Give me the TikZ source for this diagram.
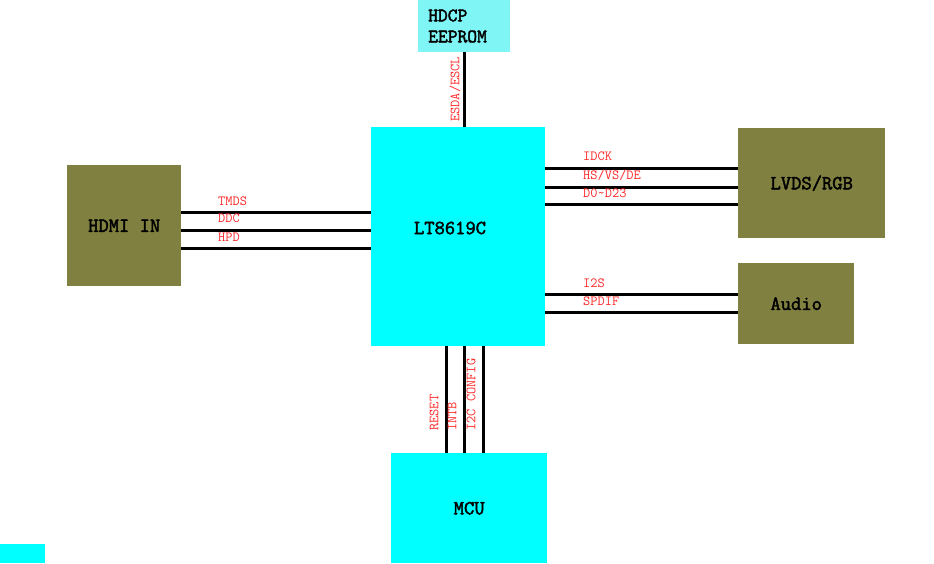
\documentclass[tikz,border=0pt]{standalone}
\usepackage{fontspec}
\newfontfamily\boldmono[FakeBold=2.2]{Latin Modern Mono}
\definecolor{cyanbox}{RGB}{0,255,255}
\definecolor{lightcyan}{RGB}{128,245,245}
\definecolor{olive}{RGB}{128,128,64}
\definecolor{lblred}{RGB}{255,40,40}
\tikzset{
  boxfont/.style={font=\boldmono\fontsize{20}{18}\selectfont},
  blk/.style={draw=none, inner sep=0pt, anchor=north west, boxfont},
  wire/.style={line width=3pt, black},
  lbl/.style={font=\ttfamily\fontsize{14}{14}\selectfont, text=lblred, inner sep=0pt, anchor=west},
  vlbl/.style={font=\ttfamily\fontsize{14}{14}\selectfont, text=lblred, inner sep=0pt, rotate=90, anchor=west},
}
\begin{document}
\begin{tikzpicture}[x=1pt,y=-1pt]
\useasboundingbox (0,0) rectangle (934,563);
% boxes
\node[blk, fill=lightcyan, minimum width=92pt, minimum height=52pt] (hdcp) at (418,0) {};
\node[font=\boldmono\fontsize{19}{21}\selectfont, inner sep=0pt, align=left, anchor=west] (hdcpT) at (428,26) {HDCP\\EEPROM};
\node[blk, fill=cyanbox, minimum width=174pt, minimum height=219pt] (lt) at (371,127) {};
\node[boxfont, inner sep=0pt] (ltT) at (450,228) {LT8619C};
\node[blk, fill=olive, minimum width=114pt, minimum height=121pt] (hdmi) at (67,165) {HDMI IN};
\node[blk, fill=olive, minimum width=147pt, minimum height=110pt] (lvds) at (738,128) {LVDS/RGB};
\node[blk, fill=olive, minimum width=116pt, minimum height=81pt] (audio) at (738,263) {Audio};
\node[blk, fill=cyanbox, minimum width=156pt, minimum height=110pt] (mcu) at (391,453) {MCU};
\node[blk, fill=cyanbox, minimum width=45pt, minimum height=19pt] (small) at (0,544) {};
% HDCP link
\draw[wire] (hdcp.south -| 464,0) -- (lt.north -| 464,0);
\node[vlbl] (esda) at (455,122) {ESDA/ESCL};
% HDMI links
\draw[wire] (hdmi.east |- 0,212) -- (lt.west |- 0,212);
\draw[wire] (hdmi.east |- 0,230) -- (lt.west |- 0,230);
\draw[wire] (hdmi.east |- 0,248) -- (lt.west |- 0,248);
\node[lbl] (tmds) at (218,201) {TMDS};
\node[lbl] (ddc) at (218,218) {DDC};
\node[lbl] (hpd) at (218,237) {HPD};
% LVDS links
\draw[wire] (lt.east |- 0,168) -- (lvds.west |- 0,168);
\draw[wire] (lt.east |- 0,187) -- (lvds.west |- 0,187);
\draw[wire] (lt.east |- 0,204) -- (lvds.west |- 0,204);
\node[lbl] (idck) at (583,156) {IDCK};
\node[lbl] (hsvs) at (583,175) {HS/VS/DE};
\node[lbl] (dd) at (583,193) {D0\char"007E D23};
% Audio links
\draw[wire] (lt.east |- 0,294) -- (audio.west |- 0,294);
\draw[wire] (lt.east |- 0,312) -- (audio.west |- 0,312);
\node[lbl] (i2s) at (583,283) {I2S};
\node[lbl] (spdif) at (583,301) {SPDIF};
% MCU links
\draw[wire] (lt.south -| 446,0) -- (mcu.north -| 446,0);
\draw[wire] (lt.south -| 464,0) -- (mcu.north -| 464,0);
\draw[wire] (lt.south -| 483,0) -- (mcu.north -| 483,0);
\node[vlbl] (reset) at (434,431) {RESET};
\node[vlbl] (intb) at (452,431) {INTB};
\node[vlbl] (i2c) at (471,431) {I2C CONFIG};
\end{tikzpicture}
\end{document}
